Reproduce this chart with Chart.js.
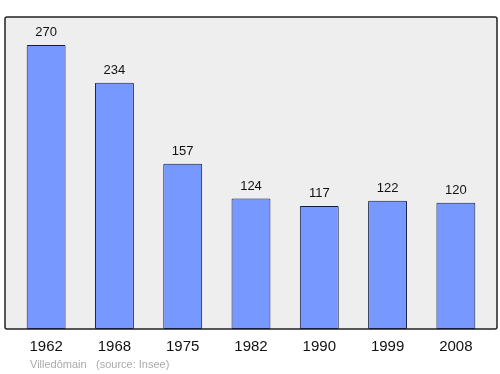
<!DOCTYPE html>
<html>
<head>
<meta charset="utf-8">
<script src="https://cdn.jsdelivr.net/npm/chart.js@4.4.0/dist/chart.umd.min.js"></script>
<style>
  html, body { margin: 0; padding: 0; background: #fff; }
  #wrap { width: 500px; height: 374px; position: relative; }
</style>
</head>
<body>
<div id="wrap"><canvas id="chart"></canvas></div>
<script>
const years = ['1962', '1968', '1975', '1982', '1990', '1999', '2008'];
const population = [270, 234, 157, 124, 117, 122, 120];
const yMax = 296.6;

// grey box behind the bars, value labels, year labels and footer
const decorations = {
    id: 'decorations',
    beforeDatasetsDraw(chart) {
        const ctx = chart.ctx;
        const area = chart.chartArea;
        ctx.save();
        ctx.fillStyle = '#eeeeee';
        ctx.strokeStyle = '#222';
        ctx.lineWidth = 1.5;
        ctx.beginPath();
        ctx.roundRect(area.left - 7, area.top, area.right - area.left + 14, area.bottom - area.top, 2);
        ctx.fill();
        ctx.stroke();
        ctx.restore();
    },
    afterDatasetsDraw(chart) {
        const ctx = chart.ctx;
        const x = chart.scales.x;
        const y = chart.scales.y;
        ctx.save();
        ctx.textAlign = 'center';
        ctx.fillStyle = '#111';
        ctx.font = '13px "Liberation Sans", Arial, sans-serif';
        ctx.textBaseline = 'alphabetic';
        population.forEach((v, i) => {
            ctx.fillText(String(v), x.getPixelForValue(i), y.getPixelForValue(v) - 9);
        });
        ctx.font = '15px "Liberation Sans", Arial, sans-serif';
        ctx.textBaseline = 'middle';
        years.forEach((yr, i) => {
            ctx.fillText(yr, x.getPixelForValue(i), chart.chartArea.bottom + 18);
        });
        ctx.font = '11px "Liberation Sans", Arial, sans-serif';
        ctx.fillStyle = '#aaaaaa';
        ctx.textAlign = 'left';
        ctx.fillText('Villedômain', 30, chart.chartArea.bottom + 36);
        ctx.fillText('(source: Insee)', 96, chart.chartArea.bottom + 36);
        ctx.restore();
    }
};

new Chart(document.getElementById('chart'), {
    type: 'bar',
    data: {
        labels: years,
        datasets: [{
            data: population,
            backgroundColor: '#7799ff',
            borderColor: '#141a40',
            borderWidth: 1,
            borderSkipped: false,
            borderRadius: 1,
            barPercentage: 0.57,
            categoryPercentage: 1
        }]
    },
    options: {
        responsive: true,
        maintainAspectRatio: false,
        animation: false,
        layout: { padding: { left: 12, right: 10, top: 17, bottom: 45 } },
        plugins: {
            legend: { display: false },
            tooltip: { enabled: false }
        },
        scales: {
            x: { display: false },
            y: { display: false, min: 0, max: yMax }
        }
    },
    plugins: [decorations]
});
</script>
</body>
</html>
